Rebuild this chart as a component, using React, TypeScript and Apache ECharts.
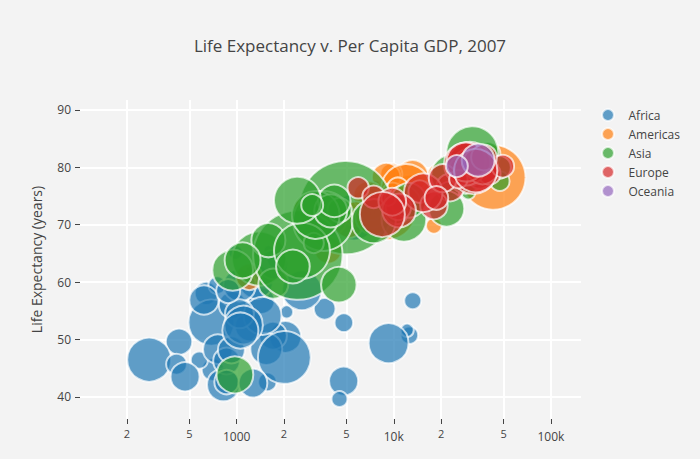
import React, { useEffect, useRef } from 'react';
import * as echarts from 'echarts';

const FONT = '"Open Sans", "Noto Sans", sans-serif';

const continents = ['Africa', 'Americas', 'Asia', 'Europe', 'Oceania'];
const colors = ['#1f77b4', '#ff7f0e', '#2ca02c', '#d62728', '#9467bd'];

// [country, gdpPercap, lifeExp, pop] — Gapminder 2007
const africa: [string, number, number, number][] = [
  ['Algeria', 6223.37, 72.301, 33333216],
  ['Angola', 4797.23, 42.731, 12420476],
  ['Benin', 1441.28, 56.728, 8078314],
  ['Botswana', 12569.85, 50.728, 1639131],
  ['Burkina Faso', 1217.03, 52.295, 14326203],
  ['Burundi', 430.07, 49.58, 8390505],
  ['Cameroon', 2042.1, 50.43, 17696293],
  ['Central African Republic', 706.02, 44.741, 4369038],
  ['Chad', 1704.06, 50.651, 10238807],
  ['Comoros', 986.15, 65.152, 710960],
  ['Congo, Dem. Rep.', 277.55, 46.462, 64606759],
  ['Congo, Rep.', 3632.56, 55.322, 3800610],
  ["Cote d'Ivoire", 1544.75, 48.328, 18013409],
  ['Djibouti', 2082.48, 54.791, 496374],
  ['Egypt', 5581.18, 71.338, 80264543],
  ['Equatorial Guinea', 12154.09, 51.579, 551201],
  ['Eritrea', 641.37, 58.04, 4906585],
  ['Ethiopia', 690.81, 52.947, 76511887],
  ['Gabon', 13206.48, 56.735, 1454867],
  ['Gambia', 752.75, 59.448, 1688359],
  ['Ghana', 1327.61, 60.022, 22873338],
  ['Guinea', 942.65, 56.007, 9947814],
  ['Guinea-Bissau', 579.23, 46.388, 1472041],
  ['Kenya', 1463.25, 54.11, 35610177],
  ['Lesotho', 1569.33, 42.592, 2012649],
  ['Liberia', 414.51, 45.678, 3193942],
  ['Libya', 12057.5, 73.952, 6036914],
  ['Madagascar', 1044.77, 59.443, 19167654],
  ['Malawi', 759.35, 48.303, 13327079],
  ['Mali', 1042.58, 54.467, 12031795],
  ['Mauritania', 1803.15, 64.164, 3270065],
  ['Mauritius', 10956.99, 72.801, 1250882],
  ['Morocco', 3820.18, 71.164, 33757175],
  ['Mozambique', 823.69, 42.082, 19951656],
  ['Namibia', 4811.06, 52.906, 2055080],
  ['Niger', 619.68, 56.867, 12894865],
  ['Nigeria', 2013.98, 46.859, 135031164],
  ['Reunion', 7670.12, 76.442, 798094],
  ['Rwanda', 863.09, 46.242, 8860588],
  ['Sao Tome and Principe', 1598.44, 65.528, 199579],
  ['Senegal', 1712.47, 63.062, 12267493],
  ['Sierra Leone', 862.54, 42.568, 6144562],
  ['Somalia', 926.14, 48.159, 9118773],
  ['South Africa', 9269.66, 49.339, 43997828],
  ['Sudan', 2602.39, 58.556, 42292929],
  ['Swaziland', 4513.48, 39.613, 1133066],
  ['Tanzania', 1107.48, 52.517, 38139640],
  ['Togo', 882.97, 58.42, 5701579],
  ['Tunisia', 7092.92, 73.923, 10276158],
  ['Uganda', 1056.38, 51.542, 29170398],
  ['Zambia', 1271.21, 42.384, 11746035],
  ['Zimbabwe', 469.71, 43.487, 12311143],
];

const americas: [string, number, number, number][] = [
  ['Argentina', 12779.38, 75.32, 40301927],
  ['Bolivia', 3822.14, 65.554, 9119152],
  ['Brazil', 9065.8, 72.39, 190010647],
  ['Canada', 36319.24, 80.653, 33390141],
  ['Chile', 13171.64, 78.553, 16284741],
  ['Colombia', 7006.58, 72.889, 44227550],
  ['Costa Rica', 9645.06, 78.782, 4133884],
  ['Cuba', 8948.1, 78.273, 11416987],
  ['Dominican Republic', 6025.37, 72.235, 9319622],
  ['Ecuador', 6873.26, 74.994, 13755680],
  ['El Salvador', 5728.35, 71.878, 6939688],
  ['Guatemala', 5186.05, 70.259, 12572928],
  ['Haiti', 1201.64, 60.916, 8502814],
  ['Honduras', 3548.33, 70.198, 7483763],
  ['Jamaica', 7320.88, 72.567, 2780132],
  ['Mexico', 11977.57, 76.195, 108700891],
  ['Nicaragua', 2749.32, 72.899, 5675356],
  ['Panama', 9809.19, 75.537, 3242173],
  ['Paraguay', 4172.84, 71.752, 6667147],
  ['Peru', 7408.91, 71.421, 28674757],
  ['Puerto Rico', 19328.71, 78.746, 3942491],
  ['Trinidad and Tobago', 18008.51, 69.819, 1056608],
  ['United States', 42951.65, 78.242, 301139947],
  ['Uruguay', 10611.46, 76.384, 3447496],
  ['Venezuela', 11415.81, 73.747, 26084662],
];

const asia: [string, number, number, number][] = [
  ['Afghanistan', 974.58, 43.828, 31889923],
  ['Bahrain', 29796.05, 75.635, 708573],
  ['Bangladesh', 1391.25, 64.062, 150448339],
  ['Cambodia', 1713.78, 59.723, 14131858],
  ['China', 4959.11, 72.961, 1318683096],
  ['Hong Kong, China', 39724.98, 82.208, 6980412],
  ['India', 2452.21, 64.698, 1110396331],
  ['Indonesia', 3540.65, 70.65, 223547000],
  ['Iran', 11605.71, 70.964, 69453570],
  ['Iraq', 4471.06, 59.545, 27499638],
  ['Israel', 25523.28, 80.745, 6426679],
  ['Japan', 31656.07, 82.603, 127467972],
  ['Jordan', 4519.46, 72.535, 6053193],
  ['Korea, Dem. Rep.', 1593.07, 67.297, 23301725],
  ['Korea, Rep.', 23348.14, 78.623, 49044790],
  ['Kuwait', 47306.99, 77.588, 2505559],
  ['Lebanon', 10461.06, 71.993, 3921278],
  ['Malaysia', 12451.66, 74.241, 24821286],
  ['Mongolia', 3095.77, 66.803, 2874127],
  ['Myanmar', 944.0, 62.069, 47761980],
  ['Nepal', 1091.36, 63.785, 28901790],
  ['Oman', 22316.19, 75.64, 3204897],
  ['Pakistan', 2605.95, 65.483, 169270617],
  ['Philippines', 3190.48, 71.688, 91077287],
  ['Saudi Arabia', 21654.83, 72.777, 27601038],
  ['Singapore', 47143.18, 79.972, 4553009],
  ['Sri Lanka', 3970.1, 72.396, 20378239],
  ['Syria', 4184.55, 74.143, 19314747],
  ['Taiwan', 28718.28, 78.4, 23174294],
  ['Thailand', 7458.4, 70.616, 65068149],
  ['Vietnam', 2441.58, 74.249, 85262356],
  ['West Bank and Gaza', 3025.35, 73.422, 4018332],
  ['Yemen, Rep.', 2280.77, 62.698, 22211743],
];

const europe: [string, number, number, number][] = [
  ['Albania', 5937.03, 76.423, 3600523],
  ['Austria', 36126.49, 79.829, 8199783],
  ['Belgium', 33692.61, 79.441, 10392226],
  ['Bosnia and Herzegovina', 7446.3, 74.852, 4552198],
  ['Bulgaria', 10680.79, 73.005, 7322858],
  ['Croatia', 14619.22, 75.748, 4493312],
  ['Czech Republic', 22833.31, 76.486, 10228744],
  ['Denmark', 35278.42, 78.332, 5468120],
  ['Finland', 33207.08, 79.313, 5238460],
  ['France', 30470.02, 80.657, 61083916],
  ['Germany', 32170.37, 79.406, 82400996],
  ['Greece', 27538.41, 79.483, 10706290],
  ['Hungary', 18008.94, 73.338, 9956108],
  ['Iceland', 36180.79, 81.757, 301931],
  ['Ireland', 40676.0, 78.885, 4109086],
  ['Italy', 28569.72, 80.546, 58147733],
  ['Montenegro', 9253.9, 74.543, 684736],
  ['Netherlands', 36797.93, 79.762, 16570613],
  ['Norway', 49357.19, 80.196, 4627926],
  ['Poland', 15389.92, 75.563, 38518241],
  ['Portugal', 20509.65, 78.098, 10642836],
  ['Romania', 10808.48, 72.476, 22276056],
  ['Serbia', 9786.53, 74.002, 10150265],
  ['Slovak Republic', 18678.31, 74.663, 5447502],
  ['Slovenia', 25768.26, 77.926, 2009245],
  ['Spain', 28821.06, 80.941, 40448191],
  ['Sweden', 33859.75, 80.884, 9031088],
  ['Switzerland', 37506.42, 81.701, 7554661],
  ['Turkey', 8458.28, 71.777, 71158647],
  ['United Kingdom', 33203.26, 79.425, 60776238],
];

const oceania: [string, number, number, number][] = [
  ['Australia', 34435.37, 81.235, 20434176],
  ['New Zealand', 25185.01, 80.204, 4115771],
];

const continentData = [africa, americas, asia, europe, oceania];

const xTickValues = [200, 500, 1000, 2000, 5000, 10000, 20000, 50000, 100000];
const xTickLabels = ['2', '5', '1000', '2', '5', '10k', '2', '5', '100k'];
const yTickValues = [40, 50, 60, 70, 80, 90];

const X_MIN = 2.003297660701705;
const X_MAX = 5.191505530708712;
const Y_MIN = 36.12621671352166;
const Y_MAX = 91.72921793264332;

const xTickLogs = xTickValues.map((v) => Math.log10(v));

export default function App() {
  const ref = useRef<HTMLDivElement>(null);

  useEffect(() => {
    document.body.style.margin = '0';
    document.body.style.background = 'rgb(243,243,243)';
    if (!ref.current) return;
    const chart = echarts.init(ref.current, undefined, { renderer: 'svg' });

    const series = continents.map((name, i) => ({
      name,
      type: 'scatter',
      data: continentData[i].map((d) => [Math.log10(d[1]), d[2], d[3], d[0]]),
      symbol: 'circle',
      symbolSize: (val: number[]) => 0.49 * Math.pow(val[2], 0.25),
      itemStyle: {
        color: colors[i],
        opacity: 0.7,
        borderColor: '#ffffff',
        borderWidth: 2,
      },
      emphasis: { disabled: true },
      clip: false,
    }));

    chart.setOption({
      animation: false,
      backgroundColor: 'rgb(243,243,243)',
      textStyle: { fontFamily: FONT },
      title: {
        text: 'Life Expectancy v. Per Capita GDP, 2007',
        left: 'center',
        top: 32,
        textStyle: { fontSize: 17, fontWeight: 'normal', color: '#444', fontFamily: FONT },
      },
      legend: {
        orient: 'vertical',
        left: 596,
        top: 103,
        icon: 'circle',
        itemWidth: 31,
        itemHeight: 12,
        itemGap: 5,
        textStyle: { fontSize: 12, color: '#444', fontFamily: FONT, lineHeight: 12 },
        data: continents,
      },
      grid: {
        left: 80,
        top: 100,
        width: 501,
        height: 319,
        containLabel: false,
        outerBoundsMode: 'none',
      },
      xAxis: {
        type: 'value',
        min: X_MIN,
        max: X_MAX,
        axisLine: { show: false },
        axisTick: {
          show: true,
          customValues: xTickLogs,
          length: 5,
          lineStyle: { color: '#444', width: 1 },
        },
        axisLabel: {
          customValues: xTickLogs,
          margin: 10,
          color: '#444',
          fontFamily: FONT,
          formatter: (v: number) => {
            const idx = xTickLogs.findIndex((t) => Math.abs(t - v) < 1e-6);
            const lab = idx >= 0 ? xTickLabels[idx] : '';
            return lab.length === 1 ? '{s|' + lab + '}' : '{b|' + lab + '}';
          },
          rich: {
            s: { fontSize: 11, lineHeight: 9, color: '#444', fontFamily: FONT },
            b: { fontSize: 12, lineHeight: 14, color: '#444', fontFamily: FONT },
          },
        },
        splitLine: { show: true, lineStyle: { color: '#ffffff', width: 2 } },
        name: 'GDP per capita (2000 dollars)',
        nameLocation: 'middle',
        nameGap: 44,
        nameTextStyle: { fontSize: 14, color: '#444', fontFamily: FONT },
      },
      yAxis: {
        type: 'value',
        min: Y_MIN,
        max: Y_MAX,
        axisLine: { show: false },
        axisTick: {
          show: true,
          customValues: yTickValues,
          length: 5,
          lineStyle: { color: '#444', width: 1 },
        },
        axisLabel: {
          customValues: yTickValues,
          margin: 9,
          fontSize: 12,
          color: '#444',
          fontFamily: FONT,
        },
        splitLine: { show: true, lineStyle: { color: '#ffffff', width: 2 } },
        name: 'Life Expectancy (years)',
        nameLocation: 'middle',
        nameGap: 37,
        nameTextStyle: { fontSize: 14, color: '#444', fontFamily: FONT },
      },
      series,
    });

    return () => chart.dispose();
  }, []);

  return <div ref={ref} style={{ width: 700, height: 459 }} />;
}
